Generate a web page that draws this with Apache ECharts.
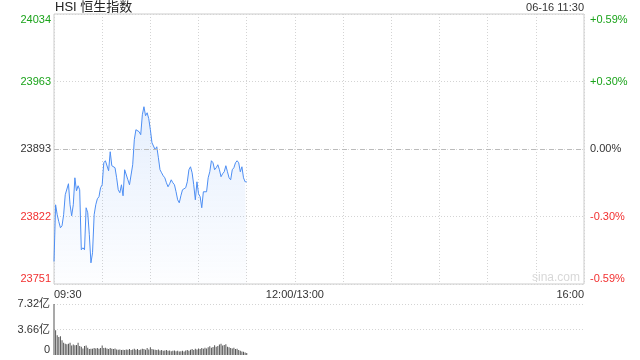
<!DOCTYPE html>
<html>
<head>
<meta charset="utf-8">
<script src="https://cdn.jsdelivr.net/npm/echarts@6/dist/echarts.min.js"></script>
<style>
html,body{margin:0;padding:0;background:#fff;}
#c{width:640px;height:360px;}
</style>
</head>
<body>
<div id="c"></div>
<script>
// ---- data ----
const titleText = 'HSI 恒生指数';
const stampText = '06-16 11:30';
const prevClose = 23892.56;
// minute prices 09:30 .. 11:30 (minute index from 09:30)
const prices = [
23775.1,23834.3,23823.9,23816.6,23810.3,23812.4,23823.9,23844.8,23843.7,23856.3,
23834.3,23822.8,23834.3,23862.5,23848.9,23854.2,23850.0,23787.3,23789.4,23787.3,
23831.2,23826.0,23803.0,23773.7,23784.2,23823.9,23834.3,23840.6,23842.7,23852.1,
23855.2,23878.2,23880.3,23881.3,23869.8,23889.7,23875.1,23874.0,23873.0,23862.5,
23850.0,23846.9,23855.2,23843.7,23870.9,23871.9,23860.4,23855.2,23855.2,23876.1,
23902.2,23912.7,23912.7,23910.6,23907.5,23928.3,23936.7,23927.3,23930.4,23924.2,
23912.7,23899.1,23898.0,23891.8,23894.9,23883.4,23870.9,23867.7,23864.6,23862.5,
23857.3,23853.1,23856.3,23860.4,23857.3,23855.2,23847.9,23839.5,23836.4,23843.7,
23850.0,23851.0,23852.1,23858.3,23870.9,23874.0,23867.7,23855.2,23839.5,23858.3,
23845.8,23842.7,23831.2,23847.9,23846.9,23847.9,23862.5,23868.8,23880.3,23878.2,
23870.9,23873.0,23876.1,23870.9,23863.6,23866.7,23868.8,23875.1,23868.8,23862.5,
23860.4,23870.9,23873.0,23878.2,23880.3,23878.2,23868.8,23874.0,23862.5,23858.3,
23858.3
];
// minute volumes, 亿
const volumes = [
7.32,3.55,2.85,2.6,2.7,2.1,1.75,1.6,1.55,1.6,
1.75,1.35,1.5,1.4,1.45,1.75,1.3,1.2,0.95,1.3,
1.35,1.05,0.85,0.9,0.9,1.0,0.95,1.0,0.9,1.0,
1.35,1.0,1.05,0.95,0.85,1.0,0.9,0.85,0.95,0.8,
0.75,0.8,0.7,0.75,0.7,0.8,0.75,0.85,0.7,0.8,
0.9,0.75,0.85,0.7,0.8,0.9,0.85,0.75,1.0,0.8,
1.1,0.85,0.8,0.75,0.7,0.8,0.65,0.7,0.6,0.65,
0.7,0.6,0.65,0.55,0.6,0.65,0.55,0.6,0.5,0.55,
0.6,0.5,0.65,0.7,0.6,0.75,0.85,0.7,0.9,0.8,
0.95,0.85,1.0,0.9,1.05,0.95,1.1,1.25,1.05,1.15,
1.4,1.2,1.3,1.5,1.6,1.35,1.45,1.55,1.2,1.1,
1.0,0.95,1.05,0.85,0.9,0.7,0.6,0.5,0.45,0.35,
0.3
];
const priceTickLabels = ['23751','23822','23893','23963','24034'];
const pctTickLabels = ['-0.59%','-0.30%','0.00%','+0.30%','+0.59%'];
const tickColors = ['#f23030','#f23030','#333333','#1aa31a','#1aa31a'];
const pctMax = 0.59;
const pctStep = 0.295;
const timeTickLabels = {0:'09:30',150:'12:00/13:00',330:'16:00'};
const sessionMinutes = 330;
const volMax = 7.32;
const volStep = 3.66;
const volTickLabels = ['0','3.66亿','7.32亿'];

// ---- chart ----
const FONT = '"Liberation Sans", Arial, "Noto Sans CJK SC", sans-serif';
const chart = echarts.init(document.getElementById('c'), null, {renderer:'canvas'});
const tickIdx = v => Math.round((Number(v) + pctMax) / pctStep);

const option = {
  animation:false,
  textStyle:{fontFamily:FONT},
  grid:[
    {left:54, right:56, top:14, height:270, show:true, borderColor:'#cccccc', borderWidth:1, backgroundColor:'transparent'},
    {left:54, right:56, top:304, height:51, show:false}
  ],
  xAxis:[
    {type:'value', gridIndex:0, min:0, max:sessionMinutes, interval:30,
     axisLine:{show:false}, axisTick:{show:false},
     splitLine:{show:true, lineStyle:{color:'#d4d4d4', type:[1,2], width:1}},
     axisLabel:{show:true, margin:5, fontSize:11, color:'#333', fontFamily:FONT,
       formatter:v => timeTickLabels[Number(v)] || '',
       alignMinLabel:'left', alignMaxLabel:'right', showMinLabel:true, showMaxLabel:true}},
    {type:'value', gridIndex:1, min:0, max:sessionMinutes, interval:30,
     axisLine:{show:false}, axisTick:{show:false}, splitLine:{show:false}, axisLabel:{show:false}}
  ],
  yAxis:[
    {type:'value', gridIndex:0, position:'left', min:-pctMax, max:pctMax, interval:pctStep,
     axisLine:{show:false}, axisTick:{show:false},
     splitLine:{show:true, lineStyle:{color:'#d4d4d4', type:[1,2], width:1}},
     axisLabel:{margin:3, fontSize:11, fontFamily:FONT,
       formatter:v => priceTickLabels[tickIdx(v)],
       color:(v) => tickColors[tickIdx(v)],
       verticalAlignMinLabel:'bottom', verticalAlignMaxLabel:'top'}},
    {type:'value', gridIndex:0, position:'right', min:-pctMax, max:pctMax, interval:pctStep,
     axisLine:{show:false}, axisTick:{show:false}, splitLine:{show:false},
     axisLabel:{margin:6, fontSize:11, fontFamily:FONT,
       formatter:v => pctTickLabels[tickIdx(v)],
       color:(v) => tickColors[tickIdx(v)],
       verticalAlignMinLabel:'bottom', verticalAlignMaxLabel:'top'}},
    {type:'value', gridIndex:1, position:'left', min:0, max:volMax, interval:volStep,
     axisLine:{show:false}, axisTick:{show:false},
     splitLine:{show:true, showMinLine:false, lineStyle:{color:'#d4d4d4', type:[1,2], width:1}},
     axisLabel:{margin:4, fontSize:11, color:'#333', fontFamily:FONT,
       formatter:v => volTickLabels[Math.round(Number(v) / volStep)],
       verticalAlignMinLabel:'bottom'}}
  ],
  series:[
    {type:'line', xAxisIndex:0, yAxisIndex:0, showSymbol:false, symbol:'none',
     data:prices.map((p,i) => [i, (p - prevClose) / prevClose * 100]),
     lineStyle:{color:'#4d8ef3', width:1},
     areaStyle:{origin:'start', color:new echarts.graphic.LinearGradient(0,0,0,1,[
       {offset:0, color:'rgba(77,142,243,0.20)'},
       {offset:1, color:'rgba(77,142,243,0.02)'}])},
     markLine:{silent:true, symbol:'none', label:{show:false},
       lineStyle:{color:'#bbbbbb', type:[5,4], width:1},
       data:[{yAxis:0}]}
    },
    {type:'bar', xAxisIndex:1, yAxisIndex:2, barWidth:1,
     data:volumes.map((v,i) => [i, v]),
     itemStyle:{color:'#555555'}}
  ],
  graphic:[
    {type:'text', left:55, top:1, style:{text:titleText, font:'13px '+FONT, fill:'#222'}},
    {type:'text', right:56, top:2, style:{text:stampText, font:'11px '+FONT, fill:'#333'}},
    {type:'text', left:532, top:272, style:{text:'sina.com', font:'12px '+FONT, fill:'#d8d8d8'}}
  ]
};
chart.setOption(option);
</script>
</body>
</html>
